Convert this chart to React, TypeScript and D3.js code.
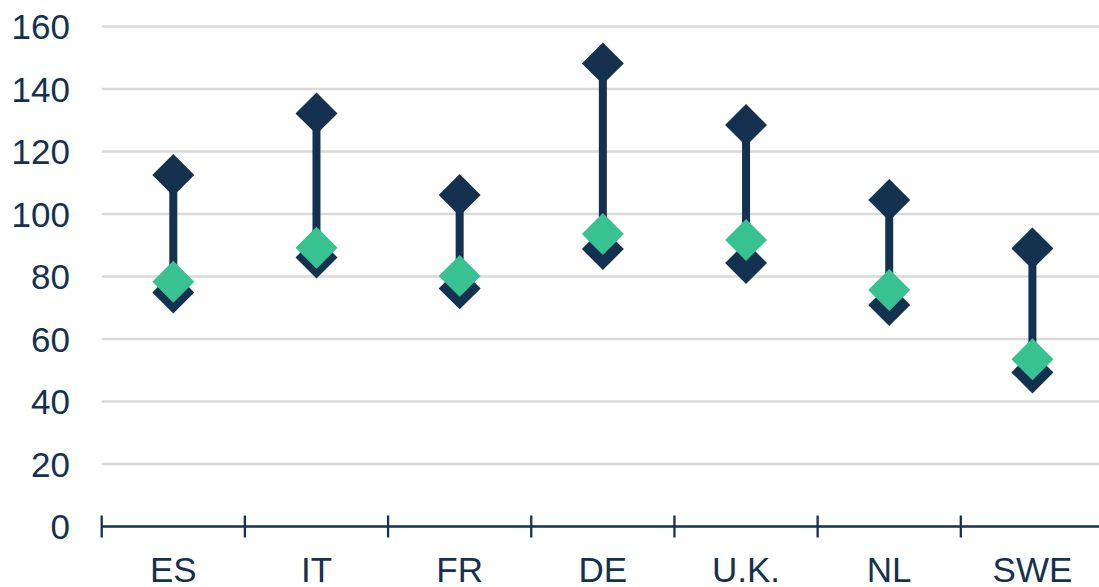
import React from "react";
import * as d3 from "d3";

// Country codes along the x axis
const categories = ["ES", "IT", "FR", "DE", "U.K.", "NL", "SWE"];
// Upper end of each range
const highValues = [112.5, 132.2, 106.1, 148.2, 128.5, 104.5, 89];
// Lower end of each range
const lowValues = [74.9, 86.1, 76.2, 88.8, 84.3, 70.9, 49.3];
// Highlighted value per country
const markValues = [78.3, 89.2, 80.2, 93.6, 91.7, 75.7, 53.5];
// Y axis ticks
const yTicks = [0, 20, 40, 60, 80, 100, 120, 140, 160];

const W = 1099;
const H = 587;
const NAVY = "#14324f";
const GREEN = "#38c291";
const GRID = "#d9d9d9";
const FONT = "'Liberation Sans', Arial, sans-serif";

export default function App() {
  const x = d3.scaleBand<string>().domain(categories).range([101.7, 1104]).padding(0);
  const y = d3.scaleLinear().domain([0, 160]).range([526.5, 26.5]);
  const diamond = d3.symbol().type(d3.symbolSquare).size(882)() as string;
  const cx = (c: string) => (x(c) as number) + x.bandwidth() / 2;

  const tickXs = categories.map((c) => x(c) as number);

  return (
    <svg
      width={W}
      height={H}
      style={{ position: "absolute", left: 0, top: 0, background: "#fff" }}
    >
      {/* gridlines */}
      {yTicks
        .filter((t) => t !== 0)
        .map((t) => (
          <line
            key={`g${t}`}
            x1={101.7}
            x2={W}
            y1={y(t)}
            y2={y(t)}
            stroke={GRID}
            strokeWidth={2.6}
          />
        ))}
      {/* y labels */}
      {yTicks.map((t) => (
        <text
          key={`yl${t}`}
          x={70}
          y={y(t)}
          textAnchor="end"
          dominantBaseline="central"
          fontFamily={FONT}
          fontSize={35}
          fill={NAVY}
        >
          {t}
        </text>
      ))}
      {/* x axis */}
      <line x1={101.7} x2={W} y1={y(0)} y2={y(0)} stroke={NAVY} strokeWidth={2.3} />
      {tickXs.map((tx, i) => (
        <line
          key={`t${i}`}
          x1={tx}
          x2={tx}
          y1={y(0) - 11}
          y2={y(0) + 11}
          stroke={NAVY}
          strokeWidth={2.3}
        />
      ))}
      {categories.map((c) => (
        <text
          key={`xl${c}`}
          x={cx(c)}
          y={582}
          textAnchor="middle"
          fontFamily={FONT}
          fontSize={35}
          fill={NAVY}
        >
          {c}
        </text>
      ))}
      {/* range bars */}
      {categories.map((c, i) => (
        <line
          key={`r${c}`}
          x1={cx(c)}
          x2={cx(c)}
          y1={y(lowValues[i])}
          y2={y(highValues[i])}
          stroke={NAVY}
          strokeWidth={8}
        />
      ))}
      {categories.map((c, i) => (
        <path
          key={`lo${c}`}
          d={diamond}
          transform={`translate(${cx(c)},${y(lowValues[i])}) rotate(45)`}
          fill={NAVY}
        />
      ))}
      {categories.map((c, i) => (
        <path
          key={`hi${c}`}
          d={diamond}
          transform={`translate(${cx(c)},${y(highValues[i])}) rotate(45)`}
          fill={NAVY}
        />
      ))}
      {categories.map((c, i) => (
        <path
          key={`mk${c}`}
          d={diamond}
          transform={`translate(${cx(c)},${y(markValues[i])}) rotate(45)`}
          fill={GREEN}
        />
      ))}
    </svg>
  );
}
